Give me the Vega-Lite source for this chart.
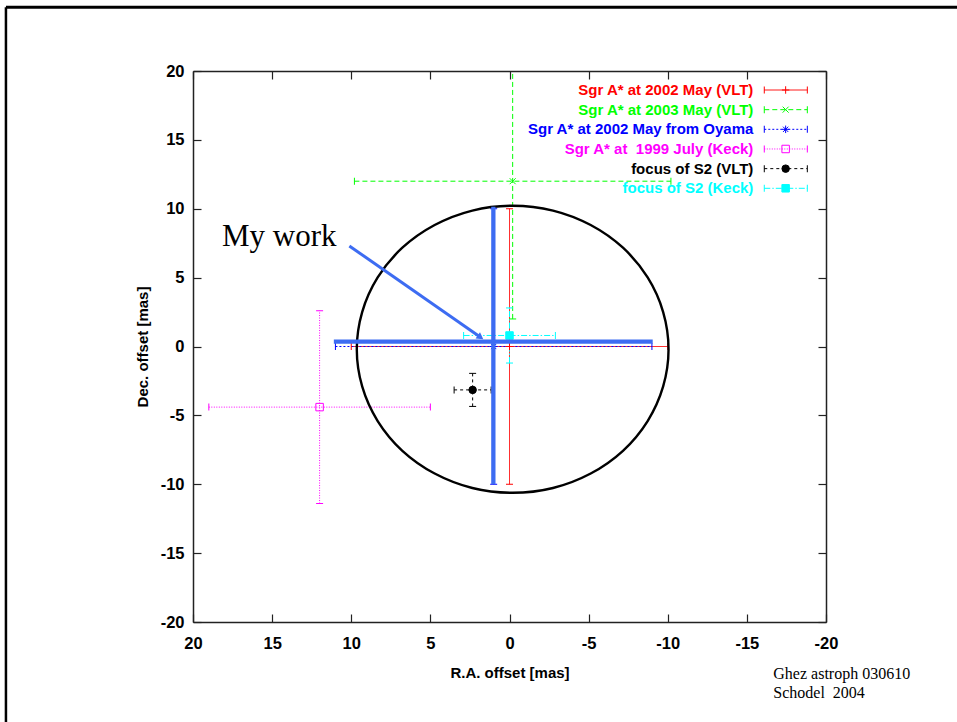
{
  "$schema": "https://vega.github.io/schema/vega-lite/v6.json",
  "width": 633,
  "height": 551,
  "autosize": "none",
  "padding": {"left": 193, "top": 71, "right": 131, "bottom": 100},
  "background": "white",
  "config": {
    "view": {"stroke": null},
    "axis": {
      "grid": false,
      "domainColor": "#222222",
      "domainWidth": 1.5,
      "tickColor": "#222222",
      "tickWidth": 1.2,
      "tickSize": -8,
      "labelFlush": false,
      "labelOverlap": false,
      "labelBound": false,
      "labelFont": "Liberation Sans, Arial, sans-serif",
      "labelFontSize": 16.5,
      "labelFontWeight": "bold",
      "labelColor": "#000000",
      "titleFont": "Liberation Sans, Arial, sans-serif",
      "titleFontSize": 15,
      "titleFontWeight": "bold",
      "titleColor": "#000000"
    }
  },
  "datasets": {
    "sources": [
      {"series": "Sgr A* at 2002 May (VLT)", "x": 0, "y": 0, "xlo": 10, "xhi": -10, "ylo": -10, "yhi": 10},
      {"series": "Sgr A* at 2003 May (VLT)", "x": -0.2, "y": 12, "xlo": 9.8, "xhi": -10.2, "ylo": 2, "yhi": 22},
      {"series": "Sgr A* at 2002 May from Oyama", "x": 1, "y": 0, "xlo": 11, "xhi": -9, "ylo": -10, "yhi": 10},
      {"series": "Sgr A* at\u00a0 1999 July (Keck)", "x": 12, "y": -4.4, "xlo": 19, "xhi": 5, "ylo": -11.4, "yhi": 2.6},
      {"series": "focus of S2 (VLT)", "x": 2.33, "y": -3.15, "xlo": 3.5, "xhi": 1.16, "ylo": -4.35, "yhi": -1.95},
      {"series": "focus of S2 (Keck)", "x": 0, "y": 0.8, "xlo": 2.9, "xhi": -2.9, "ylo": -1.2, "yhi": 2.8}
    ],
    "ellipse": [
      {"i": 0, "x": 9.65, "y": -0.2},
      {"i": 1, "x": 9.31, "y": 2.5},
      {"i": 2, "x": 8.33, "y": 5.01},
      {"i": 3, "x": 6.77, "y": 7.17},
      {"i": 4, "x": 4.73, "y": 8.82},
      {"i": 5, "x": 2.35, "y": 9.87},
      {"i": 6, "x": -0.2, "y": 10.22},
      {"i": 7, "x": -2.75, "y": 9.87},
      {"i": 8, "x": -5.13, "y": 8.82},
      {"i": 9, "x": -7.17, "y": 7.17},
      {"i": 10, "x": -8.73, "y": 5.01},
      {"i": 11, "x": -9.71, "y": 2.5},
      {"i": 12, "x": -10.05, "y": -0.2},
      {"i": 13, "x": -9.71, "y": -2.9},
      {"i": 14, "x": -8.73, "y": -5.41},
      {"i": 15, "x": -7.17, "y": -7.57},
      {"i": 16, "x": -5.13, "y": -9.22},
      {"i": 17, "x": -2.75, "y": -10.27},
      {"i": 18, "x": -0.2, "y": -10.62},
      {"i": 19, "x": 2.35, "y": -10.27},
      {"i": 20, "x": 4.73, "y": -9.22},
      {"i": 21, "x": 6.77, "y": -7.57},
      {"i": 22, "x": 8.33, "y": -5.41},
      {"i": 23, "x": 9.31, "y": -2.9}
    ],
    "mywork": [
      {"x": 11.1, "x2": -9.05, "y": 0.35, "y2": 0.35},
      {"x": 1.02, "x2": 1.02, "y": 10.15, "y2": -10.0}
    ],
    "arrow": [
      {"x": 10.12, "y": 7.3, "x2": 1.83, "y2": 0.67}
    ]
  },
  "layer": [
    {
      "layer": [
        {
          "data": {"values": [{}]},
          "mark": {"type": "rule", "color": "#000000", "strokeWidth": 3},
          "encoding": {
            "x": {"datum": 31.82, "scale": {"domain": [-20, 20], "reverse": true, "nice": false, "zero": false}, "axis": null},
            "x2": {"datum": -28.5},
            "y": {"datum": 24.62, "scale": {"domain": [-20, 20], "nice": false, "zero": false}, "axis": null}
          }
        },
        {
          "data": {"values": [{}]},
          "mark": {"type": "rule", "color": "#000000", "strokeWidth": 2.5},
          "encoding": {
            "x": {"datum": 31.82, "axis": null},
            "y": {"datum": 24.62, "axis": null},
            "y2": {"datum": -27.5}
          }
        },
        {
          "data": {"name": "sources"},
          "mark": {"type": "rule", "strokeWidth": 1, "clip": true},
          "encoding": {
            "x": {"field": "xlo", "type": "quantitative", "title": "R.A. offset [mas]",
                  "axis": {"orient": "bottom", "values": [20, 15, 10, 5, 0, -5, -10, -15, -20], "labelExpr": "datum.value + ''", "labelPadding": 21, "titlePadding": 14}},
            "x2": {"field": "xhi"},
            "y": {"field": "y", "type": "quantitative", "title": "Dec. offset [mas]",
                  "axis": {"orient": "left", "values": [20, 15, 10, 5, 0, -5, -10, -15, -20], "labelExpr": "datum.value + ''", "labelPadding": 17, "titlePadding": 10}},
            "color": {"field": "series", "type": "nominal", "legend": null,
                      "scale": {"domain": ["Sgr A* at 2002 May (VLT)", "Sgr A* at 2003 May (VLT)", "Sgr A* at 2002 May from Oyama", "Sgr A* at\u00a0 1999 July (Keck)", "focus of S2 (VLT)", "focus of S2 (Keck)"],
                                "range": ["#ff0000", "#00ff00", "#0000ff", "#ff00ff", "#000000", "#00ffff"]}},
            "strokeDash": {"field": "series", "type": "nominal", "legend": null,
                      "scale": {"domain": ["Sgr A* at 2002 May (VLT)", "Sgr A* at 2003 May (VLT)", "Sgr A* at 2002 May from Oyama", "Sgr A* at\u00a0 1999 July (Keck)", "focus of S2 (VLT)", "focus of S2 (Keck)"],
                                "range": [[1, 0], [5, 3], [2, 2], [1, 1.5], [3, 3], [6, 2, 1.5, 2]]}}
          }
        },
        {
          "data": {"name": "sources"},
          "mark": {"type": "rule", "strokeWidth": 1, "clip": true},
          "encoding": {
            "x": {"field": "x", "type": "quantitative",
                  "axis": {"orient": "top", "values": [20, 15, 10, 5, 0, -5, -10, -15, -20], "labels": false, "title": null}},
            "y": {"field": "ylo", "type": "quantitative",
                  "axis": {"orient": "right", "values": [20, 15, 10, 5, 0, -5, -10, -15, -20], "labels": false, "title": null}},
            "y2": {"field": "yhi"},
            "color": {"field": "series", "type": "nominal", "legend": null},
            "strokeDash": {"field": "series", "type": "nominal", "legend": null}
          }
        },
        {
          "data": {"name": "sources"},
          "mark": {"type": "tick", "orient": "vertical", "size": 7, "thickness": 1, "opacity": 1, "clip": true},
          "encoding": {
            "x": {"field": "xlo", "type": "quantitative", "axis": null},
            "y": {"field": "y", "type": "quantitative", "axis": null},
            "color": {"field": "series", "type": "nominal", "legend": null}
          }
        },
        {
          "data": {"name": "sources"},
          "mark": {"type": "tick", "orient": "vertical", "size": 7, "thickness": 1, "opacity": 1, "clip": true},
          "encoding": {
            "x": {"field": "xhi", "type": "quantitative", "axis": null},
            "y": {"field": "y", "type": "quantitative", "axis": null},
            "color": {"field": "series", "type": "nominal", "legend": null}
          }
        },
        {
          "data": {"name": "sources"},
          "mark": {"type": "tick", "orient": "horizontal", "size": 7, "thickness": 1, "opacity": 1, "clip": true},
          "encoding": {
            "x": {"field": "x", "type": "quantitative", "axis": null},
            "y": {"field": "ylo", "type": "quantitative", "axis": null},
            "color": {"field": "series", "type": "nominal", "legend": null}
          }
        },
        {
          "data": {"name": "sources"},
          "mark": {"type": "tick", "orient": "horizontal", "size": 7, "thickness": 1, "opacity": 1, "clip": true},
          "encoding": {
            "x": {"field": "x", "type": "quantitative", "axis": null},
            "y": {"field": "yhi", "type": "quantitative", "axis": null},
            "color": {"field": "series", "type": "nominal", "legend": null}
          }
        },
        {
          "data": {"name": "sources"},
          "mark": {"type": "point", "size": 56, "strokeWidth": 1, "opacity": 1},
          "encoding": {
            "x": {"field": "x", "type": "quantitative", "axis": null},
            "y": {"field": "y", "type": "quantitative", "axis": null},
            "shape": {"field": "series", "type": "nominal", "legend": null,
                      "scale": {"domain": ["Sgr A* at 2002 May (VLT)", "Sgr A* at 2003 May (VLT)", "Sgr A* at 2002 May from Oyama", "Sgr A* at\u00a0 1999 July (Keck)", "focus of S2 (VLT)", "focus of S2 (Keck)"],
                                "range": ["M-1,0L1,0M0,-1L0,1", "M-0.8,-0.8L0.8,0.8M-0.8,0.8L0.8,-0.8", "M-1,0L1,0M0,-1L0,1M-0.7,-0.7L0.7,0.7M-0.7,0.7L0.7,-0.7", "square", "circle", "square"]}},
            "stroke": {"field": "series", "type": "nominal", "legend": null,
                      "scale": {"domain": ["Sgr A* at 2002 May (VLT)", "Sgr A* at 2003 May (VLT)", "Sgr A* at 2002 May from Oyama", "Sgr A* at\u00a0 1999 July (Keck)", "focus of S2 (VLT)", "focus of S2 (Keck)"],
                                "range": ["#ff0000", "#00ff00", "#0000ff", "#ff00ff", "#000000", "#00ffff"]}},
            "fill": {"field": "series", "type": "nominal", "legend": null,
                      "scale": {"domain": ["Sgr A* at 2002 May (VLT)", "Sgr A* at 2003 May (VLT)", "Sgr A* at 2002 May from Oyama", "Sgr A* at\u00a0 1999 July (Keck)", "focus of S2 (VLT)", "focus of S2 (Keck)"],
                                "range": ["transparent", "transparent", "transparent", "transparent", "#000000", "#00ffff"]}}
          }
        },
        {
          "data": {"name": "ellipse"},
          "mark": {"type": "line", "color": "#000000", "strokeWidth": 2.4, "interpolate": "cardinal-closed"},
          "encoding": {
            "x": {"field": "x", "type": "quantitative", "axis": null},
            "y": {"field": "y", "type": "quantitative", "axis": null},
            "order": {"field": "i", "type": "quantitative"}
          }
        },
        {
          "data": {"name": "mywork"},
          "mark": {"type": "rule", "color": "#3d6cf2", "strokeWidth": 4.3},
          "encoding": {
            "x": {"field": "x", "type": "quantitative", "axis": null},
            "x2": {"field": "x2"},
            "y": {"field": "y", "type": "quantitative", "axis": null},
            "y2": {"field": "y2"}
          }
        },
        {
          "data": {"name": "arrow"},
          "mark": {"type": "rule", "color": "#3d6cf2", "strokeWidth": 3},
          "encoding": {
            "x": {"field": "x", "type": "quantitative", "axis": null},
            "x2": {"field": "x2"},
            "y": {"field": "y", "type": "quantitative", "axis": null},
            "y2": {"field": "y2"}
          }
        },
        {
          "data": {"name": "arrow"},
          "mark": {"type": "point", "shape": "triangle-right", "filled": true, "color": "#3d6cf2", "size": 60, "angle": 34.8, "opacity": 1},
          "encoding": {
            "x": {"field": "x2", "type": "quantitative", "axis": null},
            "y": {"field": "y2", "type": "quantitative", "axis": null}
          }
        },
        {
          "data": {"values": [{}]},
          "mark": {"type": "text", "text": "My work", "font": "Liberation Serif", "fontSize": 31, "align": "left", "baseline": "alphabetic", "color": "#000000"},
          "encoding": {
            "x": {"datum": 18.17, "axis": null},
            "y": {"datum": 7.3, "axis": null}
          }
        },
        {
          "data": {"values": [{}]},
          "mark": {"type": "text", "text": ["Ghez astroph 030610", "Schodel\u00a0 2004"], "lineHeight": 19, "font": "Liberation Serif", "fontSize": 16, "align": "left", "baseline": "alphabetic", "color": "#000000"},
          "encoding": {
            "x": {"datum": -16.67, "axis": null},
            "y": {"datum": -24.14, "axis": null}
          }
        }
      ],
      "resolve": {"axis": {"x": "independent", "y": "independent"}}
    },
    {
      "data": {"name": "sources"},
      "layer": [
        {
          "mark": {"type": "text", "align": "right", "baseline": "middle", "font": "Liberation Sans, Arial, sans-serif", "fontSize": 15, "fontWeight": "bold"},
          "encoding": {
            "x": {"datum": -15.41, "axis": null},
            "y": {"field": "series", "type": "nominal", "axis": null,
                  "scale": {"type": "point", "padding": 0, "range": [19, 117.3],
                            "domain": ["Sgr A* at 2002 May (VLT)", "Sgr A* at 2003 May (VLT)", "Sgr A* at 2002 May from Oyama", "Sgr A* at\u00a0 1999 July (Keck)", "focus of S2 (VLT)", "focus of S2 (Keck)"]}},
            "text": {"field": "series"},
            "color": {"field": "series", "type": "nominal", "legend": null}
          }
        },
        {
          "mark": {"type": "rule", "strokeWidth": 1},
          "encoding": {
            "x": {"datum": -16.1, "axis": null},
            "x2": {"datum": -18.82},
            "y": {"field": "series", "type": "nominal", "axis": null},
            "color": {"field": "series", "type": "nominal", "legend": null},
            "strokeDash": {"field": "series", "type": "nominal", "legend": null}
          }
        },
        {
          "mark": {"type": "tick", "orient": "vertical", "size": 7, "thickness": 1, "opacity": 1},
          "encoding": {
            "x": {"datum": -16.1, "axis": null},
            "y": {"field": "series", "type": "nominal", "axis": null},
            "color": {"field": "series", "type": "nominal", "legend": null}
          }
        },
        {
          "mark": {"type": "tick", "orient": "vertical", "size": 7, "thickness": 1, "opacity": 1},
          "encoding": {
            "x": {"datum": -18.82, "axis": null},
            "y": {"field": "series", "type": "nominal", "axis": null},
            "color": {"field": "series", "type": "nominal", "legend": null}
          }
        },
        {
          "mark": {"type": "point", "size": 56, "strokeWidth": 1, "opacity": 1},
          "encoding": {
            "x": {"datum": -17.45, "axis": null},
            "y": {"field": "series", "type": "nominal", "axis": null},
            "shape": {"field": "series", "type": "nominal", "legend": null},
            "stroke": {"field": "series", "type": "nominal", "legend": null},
            "fill": {"field": "series", "type": "nominal", "legend": null}
          }
        }
      ]
    }
  ],
  "resolve": {"scale": {"y": "independent"}, "axis": {"x": "independent", "y": "independent"}}
}
